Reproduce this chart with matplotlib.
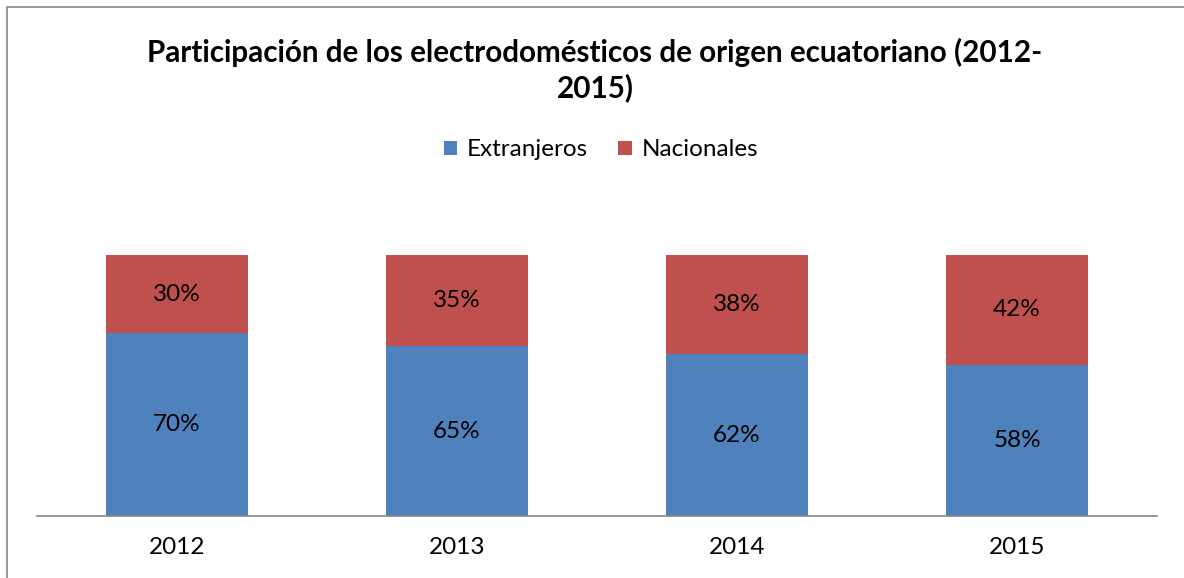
import matplotlib.pyplot as plt
import numpy as np
from matplotlib.patches import Rectangle

plt.rcParams['font.family'] = ['Lato', 'DejaVu Sans']

years = ['2012', '2013', '2014', '2015']
extranjeros = [70, 65, 62, 58]
nacionales = [30, 35, 38, 42]

BLUE = '#4F81BD'
RED = '#C0504D'


def main():
	W, H = 1184, 578
	fig = plt.figure(figsize=(W / 100, H / 100), dpi=100)

	# chart border, cropped on the right and bottom
	fig.patches.append(Rectangle((7 / W, -0.1), 1.2, 1 - 7 / H + 0.1,
		transform=fig.transFigure, fill=False, ec='#868686', lw=1.2))

	ax = fig.add_axes([37 / W, (H - 516) / H, (1157 - 37) / W, (516 - 255) / H])
	x = np.arange(len(years))
	ext = np.array(extranjeros) / 100
	nac = np.array(nacionales) / 100
	bw = 0.505
	b1 = ax.bar(x, ext, bw, color=BLUE, label='Extranjeros')
	b2 = ax.bar(x, nac, bw, bottom=ext, color=RED, label='Nacionales')

	for bars, vals in ((b1, extranjeros), (b2, nacionales)):
		for r, v in zip(bars, vals):
			ax.text(r.get_x() + r.get_width() / 2, r.get_y() + r.get_height() / 2,
				'%d%%' % v, ha='center', va='center', fontsize=17.5, color='#000000')

	ax.set_xlim(-0.5, len(years) - 0.5)
	ax.set_ylim(0, 1)
	ax.set_xticks(x)
	ax.set_xticklabels(years, fontsize=17.5)
	ax.tick_params(axis='x', length=0, pad=15)
	ax.set_yticks([])
	for s in ('top', 'left', 'right'):
		ax.spines[s].set_visible(False)
	ax.spines['bottom'].set_color('#868686')
	ax.spines['bottom'].set_linewidth(1.2)

	fig.text(595 / W, 1 - 70 / H,
		'Participación de los electrodomésticos de origen ecuatoriano (2012-\n2015)',
		ha='center', va='center', fontsize=21.3, fontweight='bold', linespacing=1.25)
	fig.legend(loc='center', bbox_to_anchor=(601 / W, 1 - 150 / H), ncol=2,
		frameon=False, fontsize=17.5, handlelength=0.55, handleheight=0.55,
		handletextpad=0.4, columnspacing=1.25)

	fig.savefig('out.png', dpi=100)


if __name__ == '__main__':
	main()
